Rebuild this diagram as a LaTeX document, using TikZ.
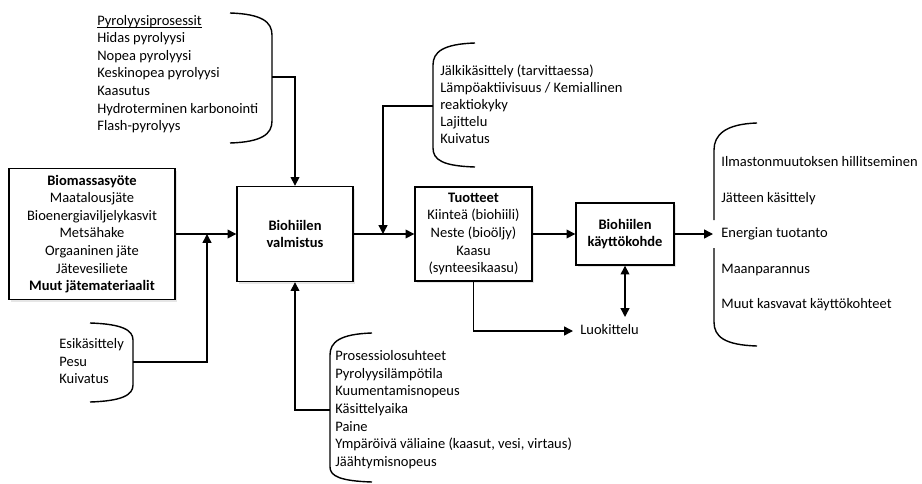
\documentclass[tikz,border=0pt]{standalone}
\usepackage{fontspec}
\setmainfont{Carlito}
\usetikzlibrary{positioning, arrows.meta, shadows}

\begin{document}
\begin{tikzpicture}[
    x=0.02cm, y=-0.02cm,
    every node/.style={font=\fontsize{8.25}{10}\selectfont},
    box/.style={draw, fill=white, line width=0.8pt, align=center, inner sep=2pt,
        drop shadow={shadow xshift=1.2pt, shadow yshift=-1.2pt, opacity=0.2}},
    item/.style={anchor=base west, inner sep=0pt},
    brace/.style={line width=0.8pt},
    arrow/.style={-{Triangle[length=5pt, width=5pt]}, line width=0.8pt},
    twoway/.style={{Triangle[length=5pt, width=5pt]}-{Triangle[length=5pt, width=5pt]}, line width=0.8pt}
]

\useasboundingbox (0,0) rectangle (922,483);

% Main boxes
\node[box, minimum width=3.32cm, minimum height=2.62cm] (biomassa) at (92,234)
    {\textbf{Biomassasyöte}\\Maatalousjäte\\Bioenergiaviljelykasvit\\Metsähake\\Orgaaninen jäte\\Jätevesiliete\\\textbf{Muut jätemateriaalit}};
\node[box, minimum width=2.32cm, minimum height=1.9cm] (valmistus) at (295,234) {\textbf{Biohiilen}\\\textbf{valmistus}};
\node[box, minimum width=2.34cm, minimum height=1.88cm] (tuotteet) at (473.5,234)
    {\textbf{Tuotteet}\\Kiinteä (biohiili)\\Neste (bioöljy)\\Kaasu\\(synteesikaasu)};
\node[box, minimum width=1.96cm, minimum height=1.24cm] (kaytto) at (625,234) {\textbf{Biohiilen}\\\textbf{käyttökohde}};

% Pyrolyysiprosessit
\foreach \t [count=\i from 0] in {Pyrolyysiprosessit, Hidas pyrolyysi, Nopea pyrolyysi,
    Keskinopea pyrolyysi, Kaasutus, Hydroterminen karbonointi, Flash-pyrolyys} {
    \node[item] (pyro\i) at (97,25.5+17.5*\i) {\t};
}
\draw[line width=0.5pt] ([yshift=-1.2pt]pyro0.base west) -- ([yshift=-1.2pt]pyro0.base east);
\draw[brace] (230,13) .. controls (262,14) and (272,22) .. (272,35) -- (272,121)
    .. controls (272,134) and (262,142) .. (230,143);
\coordinate (pyroin) at (272,77);

% Esikasittely
\foreach \t [count=\i from 0] in {Esikäsittely, Pesu, Kuivatus} {
    \node[item] (esi\i) at (59,348.5+17.5*\i) {\t};
}
\draw[brace] (90,323) .. controls (122,324) and (133,330) .. (133,340) -- (133,385)
    .. controls (133,395) and (122,401) .. (90,402);
\coordinate (esiin) at (133,362);
\coordinate (jn1) at (207,234);

% Prosessiolosuhteet
\foreach \t [count=\i from 0] in {Prosessiolosuhteet, Pyrolyysilämpötila, Kuumentamisnopeus, Käsittelyaika,
    Paine, {Ympäröivä väliaine (kaasut, vesi, virtaus)}, Jäähtymisnopeus} {
    \node[item] (pros\i) at (335,360.5+17.67*\i) {\t};
}
\draw[brace] (372,333) .. controls (340,334) and (330,342) .. (330,355) -- (330,467)
    .. controls (330,476) and (340,481) .. (372,482);
\coordinate (prosin) at (330,410);

% Jalkikasittely
\foreach \t [count=\i from 0] in {Jälkikäsittely (tarvittaessa), Lämpöaktiivisuus / Kemiallinen,
    reaktiokyky, Lajittelu, Kuivatus} {
    \node[item] (jalki\i) at (440,75.5+17*\i) {\t};
}
\draw[brace] (475,43) .. controls (443,44) and (433,52) .. (433,65) -- (433,148)
    .. controls (433,160) and (443,166) .. (475,167);
\coordinate (jalkiin) at (433,106);
\coordinate (jn2) at (383,234);

% Kayttokohteet
\foreach \t [count=\i from 0] in {Ilmastonmuutoksen hillitseminen, Jätteen käsittely, Energian tuotanto,
    Maanparannus, Muut kasvavat käyttökohteet} {
    \node[item] (kohde\i) at (721,166.5+35.5*\i) {\t};
}
\draw[brace] (757,123) .. controls (725,124) and (714,135) .. (714,150) -- (714,220);
\draw[brace] (714,248) -- (714,322) .. controls (714,337) and (725,345) .. (757,346);
\coordinate (kayttoout) at (713,234);

\node[item] (luokittelu) at (580,334.5) {Luokittelu};
\coordinate (luokin) at (573,331);
\coordinate (kayttoend) at (625,317);

% Arrows
\draw[arrow] (biomassa) -- (valmistus);
\draw[arrow] (esiin) -| (jn1);
\draw[arrow] (pyroin) -| (valmistus.north);
\draw[arrow] (prosin) -| (valmistus.south);
\draw[arrow] (valmistus) -- (tuotteet);
\draw[arrow] (jalkiin) -| (jn2);
\draw[arrow] (tuotteet) -- (kaytto);
\draw[arrow] (tuotteet.south) |- (luokin);
\draw[twoway] (kaytto.south) -- (kayttoend);
\draw[arrow] (kaytto) -- (kayttoout);

\end{tikzpicture}
\end{document}
